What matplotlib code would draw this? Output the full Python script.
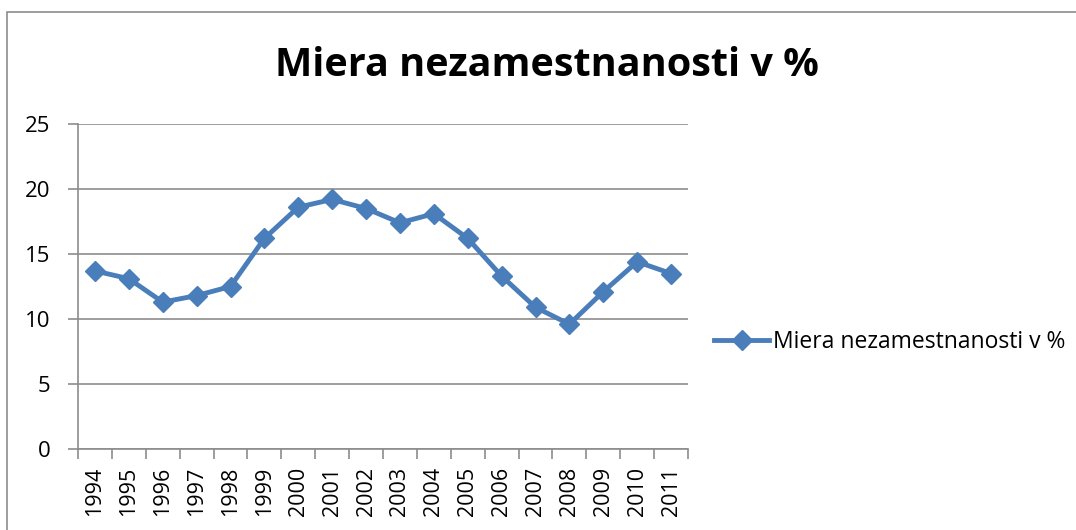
import matplotlib.pyplot as plt
from matplotlib.patches import Rectangle

years = ['1994', '1995', '1996', '1997', '1998', '1999', '2000', '2001', '2002',
         '2003', '2004', '2005', '2006', '2007', '2008', '2009', '2010', '2011']
rate = [13.7, 13.1, 11.3, 11.8, 12.5, 16.2, 18.6, 19.2, 18.5,
        17.4, 18.1, 16.2, 13.3, 10.9, 9.6, 12.1, 14.4, 13.5]
series_name = 'Miera nezamestnanosti v %'
title = 'Miera nezamestnanosti v %'

plt.rcParams['font.family'] = ['Open Sans', 'DejaVu Sans']

W, H = 1076, 530
fig = plt.figure(figsize=(W / 100, H / 100), dpi=100)

# outer chart frame, cut off at right and bottom like the original
top = 1 - 12 / H
fig.patches.append(Rectangle((7 / W, -0.1), 1.2, top + 0.1,
                             transform=fig.transFigure, fill=False,
                             edgecolor='#8c8c8c', linewidth=1.2))

ax = fig.add_axes([78 / W, 1 - 449 / H, (688 - 78) / W, (449 - 124) / H])
x = list(range(len(years)))
color = '#4a7ebb'
ax.plot(x, rate, color=color, linewidth=3.5, marker='D', markersize=10,
        markeredgecolor=color, label=series_name)

ax.set_xlim(-0.5, len(years) - 0.5)
ax.set_ylim(0, 25)
ax.set_yticks([0, 5, 10, 15, 20, 25])
ax.set_xticks(x)
ax.set_xticklabels(years, rotation=90)
ax.set_xticks([i - 0.5 for i in range(len(years) + 1)], minor=True)
ax.tick_params(axis='x', which='major', length=0, labelsize=15.5, pad=13)
ax.tick_params(axis='x', which='minor', length=7, color='#8c8c8c', width=1.2, direction='out')
ax.tick_params(axis='y', length=7, color='#8c8c8c', width=1.2, labelsize=16, pad=13)
ax.grid(axis='y', color='#8c8c8c', linewidth=1.2)
ax.set_axisbelow(True)
for s in ['top', 'right']:
    ax.spines[s].set_visible(False)
for s in ['left', 'bottom']:
    ax.spines[s].set_color('#8c8c8c')
    ax.spines[s].set_linewidth(1.2)

fig.text(547 / W, 1 - 65 / H, title, ha='center', va='center',
         fontsize=28.5, fontweight='bold')

fig.legend(loc='center left', bbox_to_anchor=(714 / W, 1 - 342 / H), frameon=False,
           fontsize=16.5, handlelength=2.4, handletextpad=0.17,
           borderaxespad=0, borderpad=0)

fig.savefig('out.png', dpi=100)
